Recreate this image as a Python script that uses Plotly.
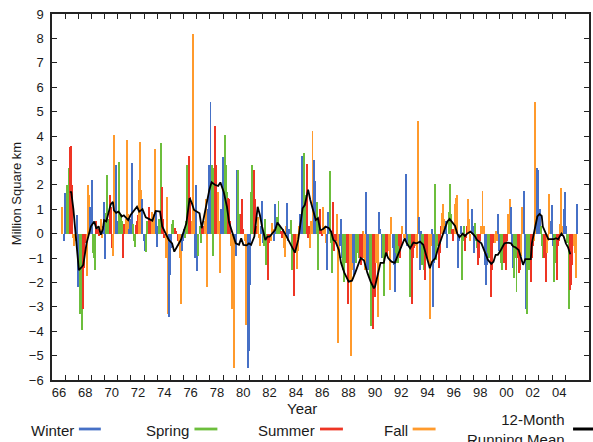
import plotly.graph_objects as go

# ---------------- data: monthly snow-cover anomalies (million km^2), Jan..Dec ----------------
a1966 = [None]*10 + [1.1, -0.3]
a1967 = [1.65, 1.45, 2.0, 1.95, 2.7, 3.55, 3.6, 2.0, -0.2, -0.5, -0.3, 0.75]
a1968 = [-2.2, -1.2, -3.3, -3.3, -3.95, -3.1, -1.4, -0.4, -1.75, 2.0, 1.6, 1.1]
a1969 = [0.75, 2.2, -0.8, -1.0, -1.5, 0.5, 0.2, -0.1, 0.2, 0.6, -0.2, 0.3]
a1970 = [1.3, -1.05, 0.85, 2.4, 0.6, 1.6, 1.1, -0.6, -0.9, 4.05, 1.6, 2.8]
a1971 = [0.5, 0.3, 2.95, 0.8, 0.5, -1.0, 0.4, 0.2, 0.6, 3.85, 0.8, 0.2]
a1972 = [0.6, 2.9, 0.4, -0.3, -0.55, 0.35, 0.5, 0.75, 2.2, 3.75, 1.8, 1.4]
a1973 = [-0.3, -0.7, -0.75, 0.5, 0.4, 1.1, 0.6, 0.5, 0.9, 0.8, 3.45, 0.9]
a1974 = [-0.55, 0.3, 0.6, 0.4, 3.7, 1.9, 0.6, -0.2, -1.0, 1.5, -3.3, -3.4]
a1975 = [-1.7, -0.6, 0.4, 0.55, 0.2, 0.25, 0.1, -0.3, -0.5, -1.0, -2.9, -0.7]
a1976 = [-0.3, 0.2, -0.2, 0.5, 2.8, 3.2, 1.5, 0.2, 0.5, 8.2, 1.0, -1.0]
a1977 = [2.0, -1.55, -0.9, 0.3, -0.4, 0.3, 0.2, 0.3, 0.5, 1.4, -2.2, 1.0]
a1978 = [2.8, 5.4, 2.8, -0.9, 2.7, 4.4, 2.8, 1.5, 1.7, 0.5, -1.6, 1.0]
a1979 = [3.15, 2.7, 4.05, 2.8, 1.7, 1.45, 1.4, 0.5, -0.5, -3.1, -5.5, -0.3]
a1980 = [-0.9, 2.6, 2.6, 0.8, 0.8, 0.8, 1.4, 0.2, -0.3, -3.75, -2.0, -5.5]
a1981 = [-4.8, -2.1, 1.7, 2.8, 0.7, 2.6, 1.4, 0.3, 0.7, -0.2, -0.5, 0.3]
a1982 = [1.35, -0.4, -0.5, 0.6, -1.3, -1.9, -0.4, -0.3, -0.3, 0.45, 0.2, -0.3]
a1983 = [1.2, 0.3, 0.7, 1.35, 0.3, 0.1, -0.2, 0.2, -0.6, -0.95, 0.3, 1.25]
a1984 = [-0.3, 0.2, 0.55, -1.5, -0.8, -2.55, -0.8, -0.5, -1.45, -0.7, 0.3, 0.8]
a1985 = [3.2, 2.6, 3.3, 1.6, 0.8, 2.86, -0.2, 0.3, -0.6, 0.5, 4.2, 3.0]
a1986 = [2.15, 1.2, 1.3, -1.5, 0.4, 1.0, 0.2, -0.1, 1.1, 0.3, -0.4, -1.5]
a1987 = [0.9, 0.3, 2.55, -0.4, -1.6, 1.3, -0.7, -0.3, 0.8, -4.5, -1.0, -0.5]
a1988 = [0.6, -1.0, -1.5, -2.0, -1.2, -1.2, -2.9, -1.4, -2.0, -5.0, -1.5, -1.2]
a1989 = [-1.7, -1.2, -1.2, -0.8, -1.0, -1.0, -1.3, -1.0, 0.1, -1.0, -1.5, 1.7]
a1990 = [-1.5, -1.5, -1.9, -3.8, -1.9, -3.9, -2.0, -2.6, -1.2, -0.8, -3.4, 0.9]
a1991 = [0.2, -1.0, -1.0, -2.55, -0.5, -0.9, -0.9, -0.5, -0.7, -2.3, 0.7, -0.6]
a1992 = [-1.3, -2.4, -0.8, -1.2, -1.2, -0.5, -1.0, -0.6, 0.3, -0.2, -0.3, 2.45]
a1993 = [-0.5, -0.4, -0.5, -2.6, -0.8, -2.9, -1.0, -0.6, -0.5, -1.0, 4.6, 0.7]
a1994 = [-1.5, 0.1, -1.3, -0.8, -1.5, -1.9, -1.0, -0.6, -1.3, -3.5, -0.5, 0.2]
a1995 = [-3.0, -1.2, 2.05, -1.1, -0.5, -1.4, -0.8, 0.3, 0.85, 1.2, 0.6, 0.3]
a1996 = [0.5, -0.6, 0.9, 2.05, 0.8, 0.2, -0.3, 0.2, 1.2, 1.45, 1.6, -1.4]
a1997 = [-0.3, 0.3, -1.9, -0.3, 0.3, -0.7, -0.2, 0.3, 1.4, 0.6, -0.3, 1.0]
a1998 = [0.3, -0.8, 0.45, -0.3, -0.6, -1.3, -1.0, -0.3, 0.3, 1.75, 0.3, -1.3]
a1999 = [-2.1, -1.3, -0.8, -1.0, -1.0, -2.6, -1.5, -0.4, -0.4, 0.1, -0.3, 0.8]
a2000 = [-0.7, -0.4, -1.2, -1.5, -0.8, -1.2, -1.5, -0.3, 0.8, 0.3, 1.42, 1.08]
a2001 = [-0.5, -1.4, -1.8, -1.0, -2.4, -1.0, -1.6, -1.5, -0.9, 1.1, 0.3, 1.75]
a2002 = [-1.2, -3.1, -3.3, -1.5, -0.5, -2.0, -1.0, -0.5, -0.3, 5.4, 1.7, 2.7]
a2003 = [2.6, 1.0, 0.3, -0.5, -1.0, -1.0, -0.8, -2.0, -0.8, -0.3, 1.62, 0.5]
a2004 = [1.16, -0.5, -2.0, -0.8, -1.2, -1.9, -0.5, -0.3, 0.4, 1.85, 0.3, 1.0]
a2005 = [1.7, 0.3, -0.4, -0.4, -3.1, -2.3, -2.1, -1.3, -0.5, -0.8, -1.8, 1.2]

# 12-month running mean
rm_months = ["1967-06", "1967-07", "1967-09", "1967-11", "1968-02", "1968-05", "1968-06", "1968-09",
             "1968-11", "1969-01", "1969-04", "1969-06", "1969-08", "1969-10", "1969-12", "1970-01",
             "1970-03", "1970-05", "1970-07", "1970-09", "1970-10", "1970-12", "1971-02", "1971-03",
             "1971-05", "1971-07", "1971-10", "1971-11", "1972-01", "1972-05", "1972-07", "1972-09",
             "1972-11", "1972-12", "1973-03", "1973-06", "1973-09", "1973-12", "1974-04", "1974-06",
             "1974-09", "1974-12", "1975-03", "1975-05", "1975-08", "1975-11", "1976-02", "1976-04",
             "1976-07", "1976-09", "1976-11", "1977-01", "1977-04", "1977-06", "1977-08", "1977-11",
             "1978-01", "1978-03", "1978-06", "1978-09", "1978-11", "1979-02", "1979-05", "1979-07",
             "1979-10", "1980-01", "1980-04", "1980-06", "1980-08", "1980-11", "1981-01", "1981-03",
             "1981-06", "1981-09", "1981-11", "1982-01", "1982-04", "1982-06", "1982-08", "1982-10",
             "1983-01", "1983-03", "1983-06", "1983-08", "1983-10", "1984-01", "1984-03", "1984-06",
             "1984-07", "1984-10", "1984-12", "1985-02", "1985-04", "1985-07", "1985-09", "1985-11",
             "1986-02", "1986-04", "1986-06", "1986-07", "1986-09", "1986-11", "1987-02", "1987-04",
             "1987-06", "1987-08", "1987-11", "1988-01", "1988-04", "1988-08", "1988-11", "1989-02",
             "1989-04", "1989-07", "1989-10", "1990-01", "1990-04", "1990-07", "1990-08", "1990-11",
             "1991-01", "1991-04", "1991-06", "1991-08", "1991-11", "1992-02", "1992-05", "1992-08",
             "1992-11", "1993-01", "1993-04", "1993-07", "1993-10", "1994-01", "1994-04", "1994-07",
             "1994-10", "1994-12", "1995-03", "1995-06", "1995-09", "1995-12", "1996-02", "1996-04",
             "1996-07", "1996-09", "1996-11", "1997-01", "1997-04", "1997-06", "1997-08", "1997-11",
             "1998-01", "1998-03", "1998-05", "1998-09", "1998-12", "1999-03", "1999-06", "1999-08",
             "1999-10", "1999-12", "2000-03", "2000-05", "2000-06", "2000-09", "2000-12", "2001-02",
             "2001-04", "2001-07", "2001-09", "2001-11", "2002-01", "2002-04", "2002-06", "2002-07",
             "2002-10", "2002-12", "2003-02", "2003-04", "2003-05", "2003-07", "2003-10", "2004-01",
             "2004-03", "2004-05", "2004-07", "2004-10", "2004-12", "2005-02", "2005-04", "2005-06"]
rm_values = [1.68, 1.72, 1.0, -0.1, -1.5, -1.35, -1.28, -0.4,
             0.0, 0.3, 0.5, 0.2, 0.3, -0.05, 0.2, 0.55,
             0.5, 0.9, 1.2, 1.3, 0.95, 0.85, 0.9, 0.85,
             0.7, 0.75, 0.6, 0.55, 0.75, 1.0, 1.1, 0.9,
             0.95, 1.0, 0.67, 0.6, 0.53, 0.93, 0.9, 0.29,
             0.0, -0.26, -0.4, -0.74, -0.5, -0.26, 0.15, 0.42,
             1.45, 1.25, 0.97, 0.9, 0.83, 0.22, 0.7, 1.45,
             1.8, 2.1, 2.0, 1.95, 2.1, 1.72, 1.1, 0.45,
             0.0, -0.4, -0.46, -0.19, -0.46, -0.48, -0.4, -0.46,
             -0.12, 1.1, 0.77, 0.29, -0.26, -0.12, -0.12, 0.0,
             0.15, 0.45, 0.29, 0.15, 0.0, -0.26, -0.5, -0.74,
             -0.78, -0.26, 0.42, 1.04, 1.17, 1.8, 1.38, 1.04,
             0.56, 0.63, 0.15, 0.15, 0.2, 0.29, 0.22, 0.08,
             -0.26, -0.33, -0.67, -1.2, -1.6, -1.97, -1.93, -1.6,
             -1.35, -1.0, -1.1, -1.6, -1.97, -2.24, -2.17, -1.5,
             -1.2, -1.2, -0.78, -1.0, -1.15, -1.2, -0.87, -0.46,
             -0.2, -0.4, -0.6, -0.37, -0.4, -0.33, -0.46, -0.94,
             -1.42, -1.15, -1.0, -0.53, -0.12, 0.29, 0.5, 0.6,
             0.42, 0.31, 0.0, -0.15, 0.0, -0.1, 0.0, 0.08,
             0.0, -0.1, -0.26, -0.4, -0.74, -1.08, -1.24, -1.15,
             -0.87, -0.87, -0.65, -0.46, -0.4, -0.37, -0.4, -0.53,
             -0.56, -0.67, -0.94, -1.28, -1.05, -1.05, -1.05, -0.4,
             0.29, 0.7, 0.8, 0.72, 0.29, 0.08, -0.23, -0.23,
             -0.23, -0.19, -0.23, 0.0, -0.12, -0.4, -0.56, -0.85]

season_names = ["Winter", "Spring", "Summer", "Fall"]
season_colors = ["#4670C6", "#6CBE3C", "#EE3524", "#FF9A2C"]
mean_label = "12-Month<br>Running Mean"

# ---------------- build series ----------------
year_rows = [a1966, a1967, a1968, a1969, a1970, a1971, a1972, a1973, a1974, a1975,
             a1976, a1977, a1978, a1979, a1980, a1981, a1982, a1983, a1984, a1985,
             a1986, a1987, a1988, a1989, a1990, a1991, a1992, a1993, a1994, a1995,
             a1996, a1997, a1998, a1999, a2000, a2001, a2002, a2003, a2004, a2005]
first_year = 1966


def month_pos(year, month):
    return year + (month - 1.5) / 12.0


def season_of(month):
    if month in (12, 1, 2):
        return 0
    if month in (3, 4, 5):
        return 1
    if month in (6, 7, 8):
        return 2
    return 3


bx, by, bc = [], [], []
for i, row in enumerate(year_rows):
    yr = first_year + i
    for m, v in enumerate(row, start=1):
        if v is None:
            continue
        bx.append(month_pos(yr, m))
        by.append(v)
        bc.append(season_colors[season_of(m)])

lx = [month_pos(int(s[:4]), int(s[5:])) for s in rm_months]

fig = go.Figure()
fig.add_trace(go.Bar(x=bx, y=by, width=0.9 / 12, marker=dict(color=bc, line=dict(width=0)),
                     showlegend=False, hoverinfo="skip"))
fig.add_trace(go.Scatter(x=lx, y=rm_values, mode="lines", line=dict(color="black", width=1.8),
                         showlegend=False, hoverinfo="skip"))

# ---------------- layout ----------------
W, H = 593, 442
PL, PR, PT, PB = 52, 591, 14, 380   # plot area in pixels
FONT = "Liberation Sans, Arial, sans-serif"


def px_x(px):
    return (px - PL) / (PR - PL)


def px_y(py):
    return (PB - py) / (PB - PT)


tick_years = list(range(1966, 2006))
tick_text = [("%02d" % (y % 100)) if y % 2 == 0 else "" for y in tick_years]

axis_common = dict(showline=True, linecolor="#222222", linewidth=1.5, ticks="inside", ticklen=5,
                   tickwidth=1.3, tickcolor="#222222", mirror="ticks", showgrid=False, zeroline=False,
                   tickfont=dict(family=FONT, size=13, color="#1a1a1a"))

fig.update_layout(
    width=W, height=H,
    margin=dict(l=PL, r=W - PR, t=PT, b=H - PB),
    plot_bgcolor="white", paper_bgcolor="white",
    bargap=0, showlegend=False,
    font=dict(family=FONT, color="#1a1a1a"),
    xaxis=dict(range=[1966, 2006.8], tickmode="array", tickvals=tick_years, ticktext=tick_text,
               ticklabelshift=7, **axis_common),
    yaxis=dict(range=[-6, 9], tickmode="array", tickvals=list(range(-6, 10)),
               ticklabelstandoff=4, **axis_common),
)

ann = []
ann.append(dict(text="Year", x=px_x(303), y=px_y(408), xref="paper", yref="paper",
                xanchor="center", yanchor="middle",
                showarrow=False, font=dict(size=15, family=FONT)))
ann.append(dict(text="Million Square km", x=px_x(16), y=px_y(194), xref="paper", yref="paper",
                xanchor="center", yanchor="middle",
                textangle=-90, showarrow=False, font=dict(size=13, family=FONT)))

# legend (text followed by a short coloured line)
leg_text_right = [76, 192, 318, 411]
leg_line = [(79, 101), (195, 218), (321, 344), (414, 437)]
shapes = []
for name, col, tr, (x0, x1) in zip(season_names, season_colors, leg_text_right, leg_line):
    ann.append(dict(text=name, x=px_x(tr), y=px_y(430), xref="paper", yref="paper", xanchor="right",
                    yanchor="middle", showarrow=False, font=dict(size=15, family=FONT)))
    shapes.append(dict(type="line", xref="paper", yref="paper", x0=px_x(x0), x1=px_x(x1),
                       y0=px_y(429), y1=px_y(429), line=dict(color=col, width=2.8)))
ann.append(dict(text=mean_label, x=px_x(569), y=px_y(429), xref="paper", yref="paper", xanchor="right",
                yanchor="middle", align="right", showarrow=False,
                font=dict(size=15, family=FONT)))
shapes.append(dict(type="line", xref="paper", yref="paper", x0=px_x(575), x1=px_x(596),
                   y0=px_y(429), y1=px_y(429), line=dict(color="black", width=3)))

fig.update_layout(annotations=ann, shapes=shapes)
fig.write_html("out.html", config={"displayModeBar": False},
               post_script="document.body.style.margin='0';document.body.style.overflow='hidden';")
